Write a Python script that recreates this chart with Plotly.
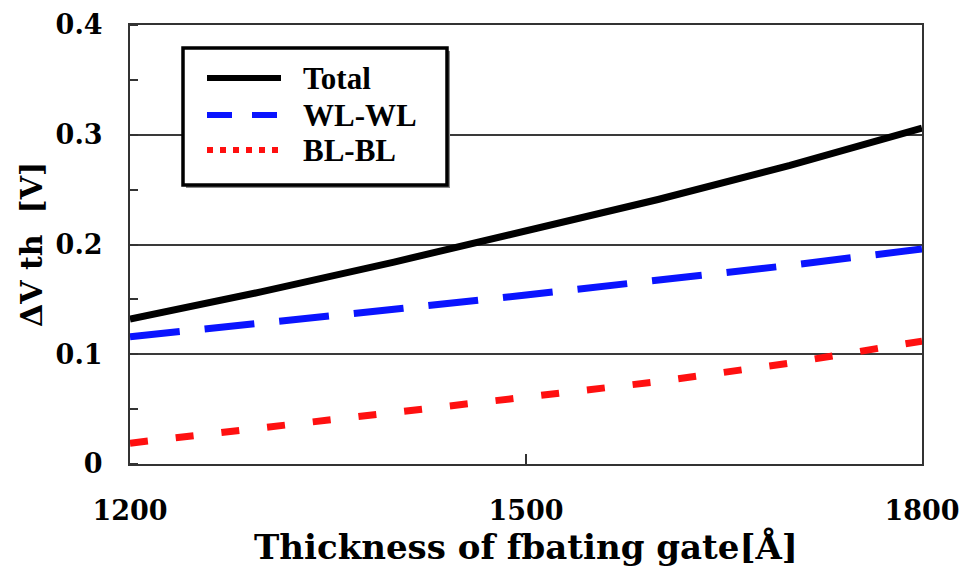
import plotly.graph_objects as go

# Floating-gate thickness sweep and threshold-voltage shift components
thickness = [1200, 1300, 1400, 1500, 1600, 1700, 1800]
total = [0.132, 0.157, 0.184, 0.212, 0.241, 0.272, 0.306]
wl_wl = [0.116, 0.128, 0.141, 0.154, 0.167, 0.181, 0.196]
bl_bl = [0.019, 0.033, 0.046, 0.060, 0.075, 0.092, 0.112]

x_ticks = [1200, 1500, 1800]
y_ticks = [0, 0.1, 0.2, 0.3, 0.4]
y_tick_text = ["0", "0.1", "0.2", "0.3", "0.4"]

series_names = ["Total", "WL-WL", "BL-BL"]

W, H = 967, 569
ML, MR, MT, MB = 130, 45, 25, 105
PW, PH = W - ML - MR, H - MT - MB

TICK_FONT = dict(family="DejaVu Serif", size=27, color="black", weight="bold")


def px_x(px):
    return (px - ML) / PW


def px_y(py):
    return (H - MB - py) / PH


fig = go.Figure()
fig.add_trace(go.Scatter(x=thickness, y=total, mode="lines", name=series_names[0],
                         line=dict(color="black", width=7)))
fig.add_trace(go.Scatter(x=thickness, y=wl_wl, mode="lines", name=series_names[1],
                         line=dict(color="#0a14ff", width=7, dash="50px,25px")))
fig.add_trace(go.Scatter(x=thickness, y=bl_bl, mode="lines", name=series_names[2],
                         line=dict(color="#ff1010", width=7, dash="18px,28px")))

shapes = []
# legend box with drop shadow
bx0, by0, bx1, by1 = 183, 48, 447, 185
shapes.append(dict(type="rect", xref="paper", yref="paper",
                   x0=px_x(bx0 + 3), x1=px_x(bx1 + 3), y0=px_y(by1 + 3), y1=px_y(by0 + 3),
                   fillcolor="#8a8a8a", line=dict(width=0), layer="above"))
shapes.append(dict(type="rect", xref="paper", yref="paper",
                   x0=px_x(bx0), x1=px_x(bx1), y0=px_y(by1), y1=px_y(by0),
                   fillcolor="white", line=dict(color="black", width=3.5), layer="above"))

sample_styles = [
    dict(color="black", width=6, dash="solid"),
    dict(color="#0a14ff", width=6, dash="25px,20px"),
    dict(color="#ff1010", width=6, dash="6px,7px"),
]
rows_y = [78, 115, 150]
annotations = []
for name, style, ry in zip(series_names, sample_styles, rows_y):
    shapes.append(dict(type="line", xref="paper", yref="paper",
                       x0=px_x(207), x1=px_x(281), y0=px_y(ry), y1=px_y(ry),
                       line=style, layer="above"))
    annotations.append(dict(xref="paper", yref="paper", x=px_x(301), y=px_y(ry),
                            xanchor="left", yanchor="middle", text=name, showarrow=False,
                            font=dict(family="Liberation Serif", size=31, color="black",
                                      weight="bold")))

fig.update_layout(
    width=W, height=H,
    margin=dict(l=ML, r=MR, t=MT, b=MB, autoexpand=False),
    paper_bgcolor="white", plot_bgcolor="white",
    showlegend=False,
    shapes=shapes,
    annotations=annotations,
    xaxis=dict(
        range=[1200, 1800], tickvals=x_ticks, ticktext=[str(v) for v in x_ticks],
        ticks="inside", ticklen=10, tickwidth=1.5, tickcolor="#333",
        showgrid=False, zeroline=False, automargin=False,
        showline=True, linecolor="#333", linewidth=2, mirror=True,
        tickfont=TICK_FONT, ticklabelstandoff=22,
        title=dict(text="Thickness of fbating gate[Å]", standoff=10,
                   font=dict(family="DejaVu Serif", size=34, color="black", weight="bold")),
    ),
    yaxis=dict(
        range=[0, 0.4], tickvals=y_ticks, ticktext=y_tick_text,
        ticks="", showgrid=True, gridcolor="#3a3a3a", gridwidth=1.5,
        zeroline=False, automargin=False,
        showline=True, linecolor="#333", linewidth=2, mirror=True,
        tickfont=TICK_FONT, ticklabelstandoff=20,
        minor=dict(dtick=0.05, ticks="inside", ticklen=8, tickwidth=1.5,
                   tickcolor="#333", showgrid=False),
        title=dict(text="ΔV th  [V]", standoff=4,
                   font=dict(family="DejaVu Serif", size=30, color="black", weight="bold")),
    ),
)

fig.write_html("out.html")
